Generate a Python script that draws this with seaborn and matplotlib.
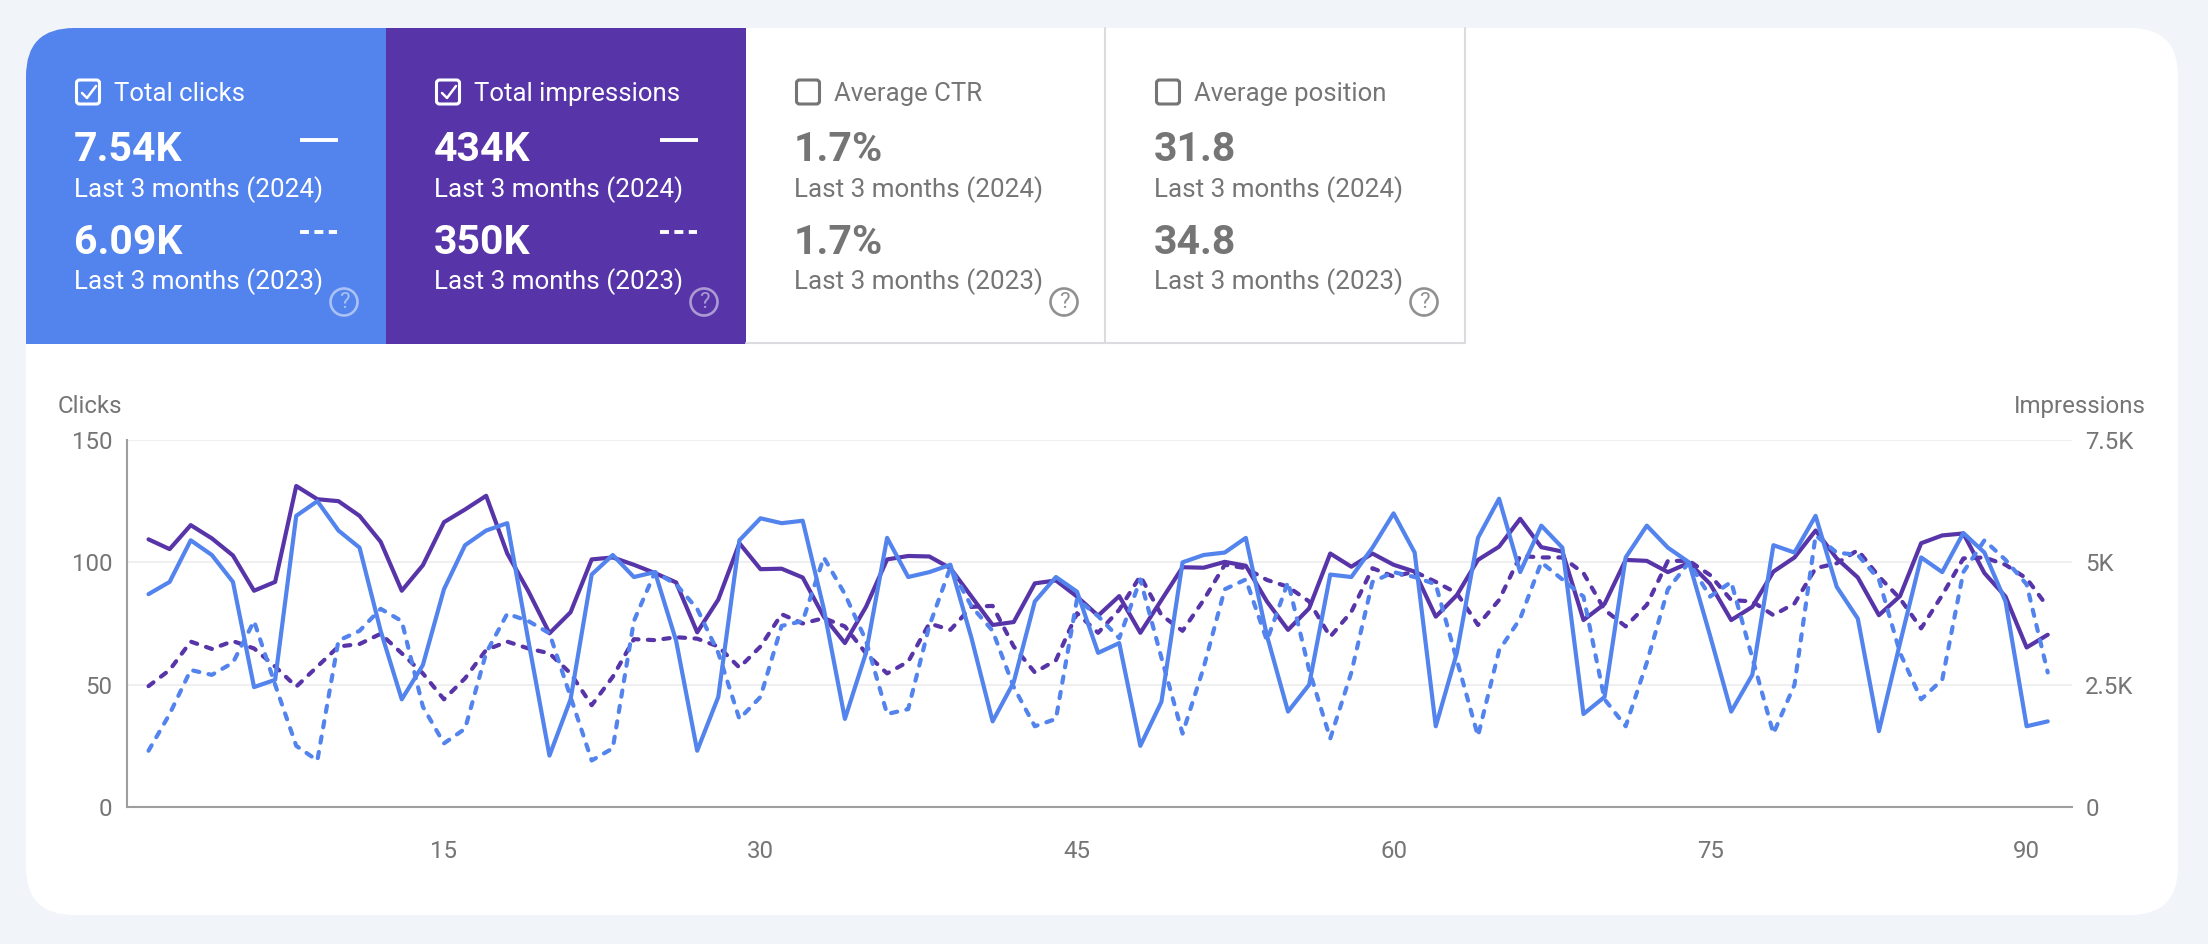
import matplotlib
matplotlib.use('Agg')
import matplotlib.pyplot as plt
import seaborn as sns
import pandas as pd
from matplotlib.patches import FancyBboxPatch, Rectangle, Circle

# daily clicks, last 3 months
clicks_2024 = [87, 92, 109, 103, 92, 49, 52, 119, 125, 113,
               106, 72, 44, 58, 89, 107, 113, 116, 68, 21,
               44, 95, 103, 94, 96, 68, 23, 45, 109, 118,
               116, 117, 81, 36, 63, 110, 94, 96, 99, 69,
               35, 51, 84, 94, 88, 63, 67, 25, 43, 100,
               103, 104, 110, 70, 39, 50, 95, 94, 106, 120,
               104, 33, 63, 110, 126, 96, 115, 106, 38, 45,
               102, 115, 106, 100, 70, 39, 54, 107, 104, 119,
               90, 77, 31, 67, 102, 96, 112, 104, 84, 33, 35]
clicks_2023 = [23, 38, 56, 54, 59, 76, 50, 25, 19, 68,
               72, 81, 76, 41, 26, 32, 63, 79, 76, 71,
               45, 19, 24, 76, 96, 91, 81, 63, 36, 45,
               74, 76, 102, 87, 68, 38, 40, 74, 98, 82,
               72, 49, 33, 36, 85, 78, 69, 93, 61, 30,
               57, 89, 93, 68, 92, 56, 28, 55, 92, 96,
               94, 91, 60, 29, 64, 77, 100, 93, 86, 44,
               33, 59, 89, 100, 86, 92, 61, 30, 50, 111,
               104, 103, 93, 63, 44, 52, 96, 109, 101, 91, 55]
# daily impressions
impr_2024 = [5470, 5270, 5760, 5490, 5140, 4420, 4600, 6560, 6290, 6250,
             5950, 5420, 4420, 4940, 5820, 6080, 6360, 5180, 4410, 3550,
             3980, 5060, 5100, 4950, 4780, 4590, 3570, 4240, 5390, 4860,
             4870, 4690, 3890, 3350, 4090, 5060, 5130, 5120, 4880, 4300,
             3720, 3780, 4570, 4630, 4300, 3910, 4310, 3560, 4230, 4900,
             4890, 5010, 4930, 4200, 3620, 4060, 5180, 4910, 5180, 4950,
             4810, 3890, 4330, 5050, 5320, 5890, 5310, 5220, 3820, 4150,
             5050, 5030, 4800, 4990, 4560, 3820, 4090, 4810, 5100, 5650,
             5080, 4690, 3920, 4310, 5390, 5550, 5590, 4780, 4300, 3260, 3520]
impr_2023 = [2470, 2800, 3380, 3230, 3390, 3240, 2870, 2460, 2870, 3280,
             3330, 3540, 3140, 2730, 2200, 2630, 3210, 3380, 3240, 3140,
             2730, 2080, 2660, 3430, 3410, 3470, 3440, 3280, 2850, 3280,
             3940, 3750, 3860, 3690, 3140, 2730, 2970, 3750, 3620, 4090,
             4110, 3280, 2750, 3000, 3960, 3560, 4030, 4720, 3920, 3600,
             4230, 4950, 4880, 4640, 4500, 4200, 3480, 3990, 4880, 4710,
             4810, 4600, 4370, 3720, 4230, 5130, 5100, 5100, 4780, 4030,
             3690, 4130, 5030, 5030, 4740, 4230, 4200, 3920, 4160, 4880,
             4980, 5250, 4710, 4260, 3650, 4330, 5080, 5100, 4950, 4670, 4090]

x_ticks = [15, 30, 45, 60, 75, 90]
clicks_ticks = [0, 50, 100, 150]
impr_ticks = [0, 2500, 5000, 7500]
impr_labels = ['0', '2.5K', '5K', '7.5K']

card_titles = ['Total clicks', 'Total impressions', 'Average CTR', 'Average position']
values_2024 = ['7.54K', '434K', '1.7%', '31.8']
values_2023 = ['6.09K', '350K', '1.7%', '34.8']
label_2024 = 'Last 3 months (2024)'
label_2023 = 'Last 3 months (2023)'

BLUE = '#5383EC'
PURPLE = '#5735A8'
PAGE = '#F1F4F9'
GREY = '#757575'
W, H = 2208, 944

sns.set_theme(style='white')
plt.rcParams['font.family'] = ['Roboto', 'DejaVu Sans']

fig = plt.figure(figsize=(W / 100, H / 100), dpi=100, facecolor=PAGE)

# background layer in pixel coordinates: card, tabs, texts
bg = fig.add_axes([0, 0, 1, 1])
bg.set_xlim(0, W)
bg.set_ylim(H, 0)
bg.axis('off')

card = FancyBboxPatch((26, 28), 2152, 887, boxstyle='round,pad=0,rounding_size=48',
                      fc='white', ec='none')
bg.add_patch(card)

tab_x = [26, 386, 746, 1106]
tab_w = 360
for i, title in enumerate(card_titles):
    x0 = tab_x[i]
    active = i < 2
    fg = 'white' if active else GREY
    if active:
        tab = Rectangle((x0, 28), tab_w, 316, fc=BLUE if i == 0 else PURPLE, ec='none')
        bg.add_patch(tab)
        if i == 0:
            tab.set_clip_path(card)
    else:
        bg.plot([x0 + tab_w - 1] * 2, [28, 343], color='#DADCE0', lw=1.5, zorder=3)
        bg.plot([x0, x0 + tab_w - 1], [343, 343], color='#DADCE0', lw=1.5, zorder=3)

    tx = x0 + 48
    # checkbox
    bg.add_patch(FancyBboxPatch((tx + 2.5, 80), 23, 24, boxstyle='round,pad=0,rounding_size=3',
                                fc='none', ec=fg, lw=2.2, zorder=4))
    if active:
        bg.plot([tx + 8, tx + 13, tx + 22], [93, 98, 86], color='white', lw=1.8, zorder=4)
    bg.text(tx + 40, 101, title, color=fg, fontsize=18.5, va='baseline', zorder=5)

    bg.text(tx, 161, values_2024[i], color=fg, fontsize=29.5, fontweight='bold', va='baseline', zorder=5)
    bg.text(tx, 197, label_2024, color=fg, fontsize=18.7, va='baseline', zorder=5)
    bg.text(tx, 254, values_2023[i], color=fg, fontsize=29.5, fontweight='bold', va='baseline', zorder=5)
    bg.text(tx, 289, label_2023, color=fg, fontsize=18.7, va='baseline', zorder=5)

    if active:
        # small legend keys next to the values
        bg.plot([x0 + 274, x0 + 312], [140, 140], color='white', lw=2.8, solid_capstyle='butt', zorder=4)
        bg.plot([x0 + 274, x0 + 311], [232, 232], color='white', lw=2.8, dashes=(2.3, 1.4),
                dash_capstyle='butt', zorder=4)

    # help icon
    alpha = 0.5 if active else 0.8
    bg.add_patch(Circle((x0 + 318, 302), 13.5, fc='none', ec=fg, lw=1.9, alpha=alpha, zorder=4))
    bg.text(x0 + 318, 303, '?', color=fg, alpha=alpha, fontsize=16, ha='center', va='center', zorder=5)

bg.text(58, 413, 'Clicks', color=GREY, fontsize=17.3, va='baseline')
bg.text(2146, 413, 'Impressions', color=GREY, fontsize=17.3, va='baseline', ha='right')

# chart area
ax_left, ax_right, ax_top, ax_bottom = 127, 2072, 440, 807
ax = fig.add_axes([ax_left / W, 1 - ax_bottom / H, (ax_right - ax_left) / W, (ax_bottom - ax_top) / H])
ax2 = ax.twinx()
ax.set_zorder(ax2.get_zorder() + 1)
ax.patch.set_visible(False)
ax2.patch.set_visible(False)

days = list(range(1, len(clicks_2024) + 1))
clicks = pd.DataFrame({'day': days * 2, 'val': clicks_2023 + clicks_2024,
                       'year': ['2023'] * len(days) + ['2024'] * len(days)})
impr = pd.DataFrame({'day': days * 2, 'val': impr_2023 + impr_2024,
                     'year': ['2023'] * len(days) + ['2024'] * len(days)})
dash_map = {'2023': (1.5, 2.25), '2024': ''}

sns.lineplot(data=impr, x='day', y='val', style='year', dashes=dash_map, color=PURPLE,
             linewidth=3.0, dash_capstyle='round', legend=False, ax=ax2, errorbar=None)
sns.lineplot(data=clicks, x='day', y='val', style='year', dashes=dash_map, color=BLUE,
             linewidth=3.0, dash_capstyle='round', legend=False, ax=ax, errorbar=None)

ax.set_xlim(-0.02, 92.15)
ax.set_ylim(0, 150)
ax2.set_ylim(0, 7500)
ax.set_xticks(x_ticks)
ax.set_yticks(clicks_ticks)
ax2.set_yticks(impr_ticks)
ax2.set_yticklabels(impr_labels)
ax.set_xlabel('')
ax.set_ylabel('')
ax2.set_ylabel('')

ax2.grid(axis='y', color='#EFEFEF', lw=1.5)
ax2.set_axisbelow(True)
ax.grid(False)

ax.tick_params(axis='x', length=0, pad=24, labelsize=17.3, labelcolor=GREY)
ax.tick_params(axis='y', length=0, pad=10.5, labelsize=17.3, labelcolor=GREY)
ax2.tick_params(axis='y', length=0, pad=9.5, labelsize=17.3, labelcolor=GREY)

for a in [ax, ax2]:
    a.spines['top'].set_visible(False)
    a.spines['right'].set_visible(False)
    a.spines['left'].set_visible(False)
    a.spines['bottom'].set_visible(False)
ax.spines['left'].set_visible(True)
ax.spines['bottom'].set_visible(True)
ax.spines['left'].set_color('#9E9E9E')
ax.spines['bottom'].set_color('#9E9E9E')
ax.spines['left'].set_linewidth(1.5)
ax.spines['bottom'].set_linewidth(1.5)

fig.savefig('out.png', dpi=100, facecolor=PAGE)
